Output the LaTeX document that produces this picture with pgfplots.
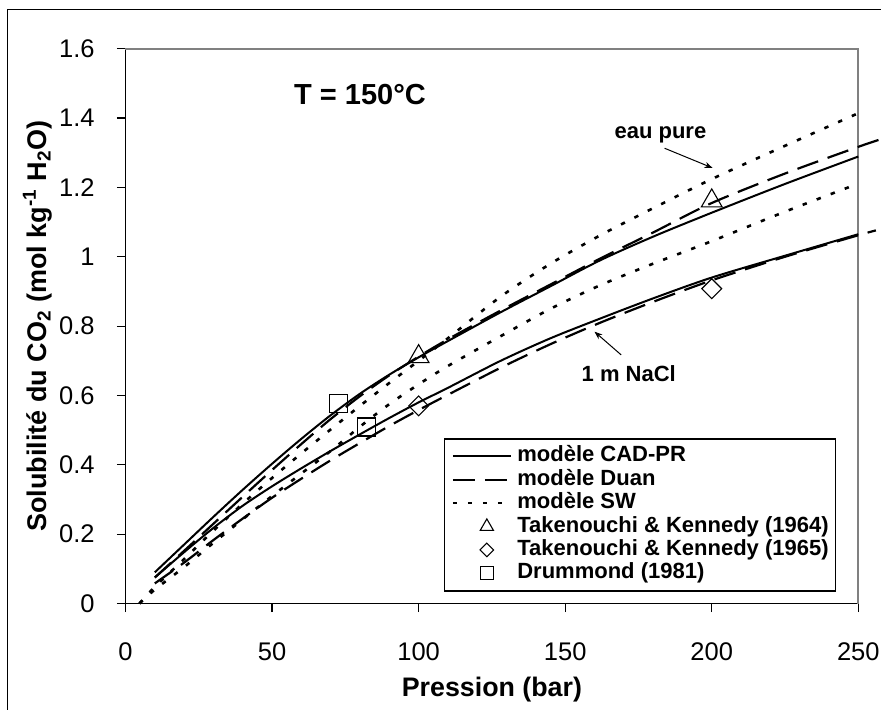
\documentclass[border=0pt]{standalone}
\usepackage{fontspec}
\setmainfont{Liberation Sans}
\usepackage{pgfplots}
\pgfplotsset{compat=1.18}
\usetikzlibrary{arrows.meta}
\pgfplotsset{
  markleg/.style={legend image code/.code={\path (0pt,0pt) (29pt,0pt); \draw[##1, mark size=#1] plot coordinates {(17pt,0pt)};}},
  lineleg/.style={legend image code/.code={\draw[##1] (0pt,0pt) -- (29pt,0pt);}},
}
\begin{document}
\begin{tikzpicture}
\useasboundingbox (-62.75pt,-52.75pt) rectangle (377.75pt,301.75pt);
\draw[black, line width=0.7pt] (-59.1pt,-60pt) -- (-59.1pt,297pt) -- (390pt,297pt);
\begin{axis}[
  at={(0pt,0pt)}, anchor=south west,
  scale only axis, width=366.4pt, height=277.4pt,
  xmin=0, xmax=250, ymin=0, ymax=1.6,
  axis lines=left, axis line style={-, black, line width=0.6pt},
  xtick={0,50,100,150,200,250},
  ytick={0,0.2,0.4,0.6,0.8,1,1.2,1.4,1.6},
  tick align=outside, major tick length=4.25pt, tick style={black, line width=0.6pt},
  /pgf/number format/assume math mode=true,
  tick label style={font=\fontsize{12.75}{14}\selectfont, inner sep=0pt},
  xticklabel style={anchor=north, yshift=-15.25pt},
  yticklabel style={anchor=east, xshift=-11pt},
  clip=false,
  legend cell align=left,
  legend style={at={(axis cs:108.6,0.477)}, anchor=north west, draw=black, line width=0.7pt,
    fill=white, font=\fontsize{11}{11}\bfseries\selectfont,
    inner xsep=3.5pt, inner ysep=3.5pt, row sep=1.2pt, column sep=2.6pt,
    nodes={inner sep=0pt, text height=8pt, text depth=2.5pt}},
  lineleg,
]
% plot area border (grey top and right)
\draw[gray, line width=1pt] (rel axis cs:0,1) -- (rel axis cs:1,1) -- (rel axis cs:1,0);

% ---- model CAD-PR (solid) ----
\addplot[black, line width=1pt, smooth] coordinates {
(10,0.090) (20,0.170) (30,0.250) (40,0.328) (50,0.403) (60,0.475) (70,0.543) (80,0.605)
(90,0.660) (100,0.710) (110,0.757) (128,0.840) (145,0.915) (162,0.990) (180,1.058)
(200,1.127) (225,1.210) (250,1.289)};
\addlegendentry{modèle CAD-PR}
% ---- model Duan (dashed) ----
\addplot[black, line width=1.1pt, dash pattern=on 11pt off 5pt, smooth] coordinates {
(10,0.075) (20,0.152) (30,0.230) (40,0.308) (50,0.385) (60,0.460) (70,0.532) (80,0.598)
(90,0.658) (100,0.712) (110,0.762) (128,0.845) (145,0.920) (162,0.995) (180,1.070)
(200,1.155) (225,1.240) (250,1.317) (257,1.337)};
\addlegendentry{modèle Duan}
% ---- model SW (dotted) ----
\addplot[black, line width=1.3pt, dash pattern=on 2.2pt off 5.3pt, smooth] coordinates {
(4.76,0) (10,0.048) (20,0.128) (30,0.210) (40,0.288) (50,0.362) (60,0.433) (70,0.502)
(80,0.570) (90,0.636) (100,0.700) (110,0.765) (128,0.885) (145,0.980) (162,1.062)
(180,1.140) (200,1.224) (225,1.320) (250,1.414)};
\addlegendentry{modèle SW}
% ---- data ----
\addplot[only marks, mark=triangle, mark size=6pt, mark options={solid, black, line width=0.55pt},
  markleg=3.8pt]
  coordinates {(100,0.712) (200,1.161)};
\addlegendentry{Takenouchi \& Kennedy (1964)}
\addplot[only marks, mark=square, mark size=3.5pt, mark options={solid, black, line width=0.55pt, rotate=45},
  markleg=2.4pt]
  coordinates {(100,0.570) (200,0.908)};
\addlegendentry{Takenouchi \& Kennedy (1965)}
\addplot[only marks, mark=square, mark size=4.5pt, mark options={solid, black, line width=0.55pt},
  markleg=3.2pt]
  coordinates {(72.6,0.577) (82.1,0.509)};
\addlegendentry{Drummond (1981)}

% ---- 1 m NaCl curves ----
\addplot[black, line width=1pt, smooth, forget plot] coordinates {
(10,0.075) (20,0.148) (30,0.218) (40,0.282) (50,0.338) (60,0.390) (70,0.440) (80,0.488)
(90,0.535) (100,0.580) (110,0.622) (128,0.700) (145,0.765) (162,0.822) (180,0.880)
(200,0.940) (225,1.003) (250,1.065)};
\addplot[black, line width=1.1pt, dash pattern=on 11pt off 5pt, smooth, forget plot] coordinates {
(10,0.058) (20,0.118) (30,0.183) (40,0.245) (50,0.305) (60,0.360) (70,0.413) (80,0.463)
(90,0.512) (100,0.558) (110,0.602) (128,0.680) (145,0.748) (162,0.810) (180,0.870)
(200,0.932) (225,1.000) (250,1.062) (256,1.076)};
\addplot[black, line width=1.3pt, dash pattern=on 2.2pt off 5.3pt, smooth, forget plot] coordinates {
(4.76,0) (10,0.040) (20,0.105) (30,0.175) (40,0.243) (50,0.310) (60,0.375) (70,0.440)
(80,0.510) (90,0.575) (100,0.632) (110,0.685) (128,0.771) (145,0.850) (162,0.918)
(180,0.980) (200,1.045) (225,1.130) (250,1.211)};

% ---- annotations ----
\node[font=\fontsize{14.5}{15}\bfseries\selectfont] at (axis cs:80,1.469) {T = 150°C};
\node[font=\fontsize{11}{12}\bfseries\selectfont] at (axis cs:182.5,1.351) {eau pure};
\draw[-{Stealth[length=4pt,width=3pt]}, line width=0.5pt] (axis cs:183.9,1.313) -- (axis cs:200.3,1.256);
\node[font=\fontsize{11}{12}\bfseries\selectfont] at (axis cs:171.7,0.662) {1 m NaCl};
\draw[-{Stealth[length=4pt,width=3pt]}, line width=0.5pt] (axis cs:169.1,0.717) -- (axis cs:160.0,0.784);

% ---- axis labels ----
\node[font=\fontsize{13.4}{15}\bfseries\selectfont] at ([yshift=-43.25pt]rel axis cs:0.5,0) {Pression (bar)};
\node[font=\fontsize{13.5}{15}\bfseries\selectfont, rotate=90] at ([xshift=-44pt]rel axis cs:0,0.5)
  {Solubilité du CO\textsubscript{2} (mol kg\textsuperscript{-1} H\textsubscript{2}O)};
\end{axis}
\end{tikzpicture}
\end{document}
